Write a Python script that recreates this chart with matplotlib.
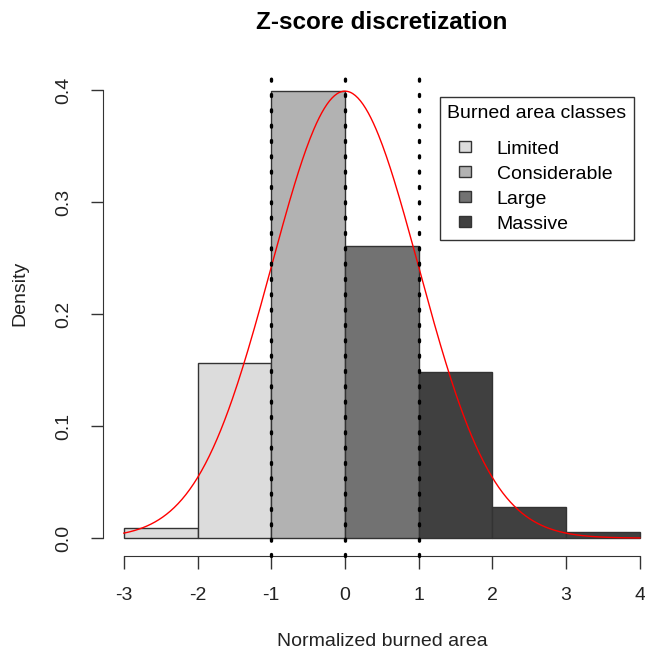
import numpy as np
import matplotlib
matplotlib.use("Agg")
import matplotlib.pyplot as plt
from matplotlib.patches import Patch, Rectangle
from matplotlib.legend_handler import HandlerPatch

plt.rcParams["font.family"] = ["Liberation Sans", "DejaVu Sans"]
plt.rcParams["font.size"] = 14

# ---- data ----
bin_edges = [-3, -2, -1, 0, 1, 2, 3, 4]
densities = [0.009, 0.156, 0.399, 0.261, 0.148, 0.028, 0.005]
bin_class = ["Limited", "Limited", "Considerable", "Large", "Massive", "Massive", "Massive"]

class_names = ["Limited", "Considerable", "Large", "Massive"]
class_colors = ["#dcdcdc", "#b2b2b2", "#727272", "#404040"]
class_breaks = [-1, 0, 1]

norm_mean = 0.0
norm_sd = 1.0

x_ticks = [-3, -2, -1, 0, 1, 2, 3, 4]
y_ticks = [0.0, 0.1, 0.2, 0.3, 0.4]

color_of = dict(zip(class_names, class_colors))

fig = plt.figure(figsize=(6.45, 6.52), dpi=100)
# R-like plot region (extends past the right edge, like the cropped original)
ax = fig.add_axes([0.160, 0.1472, 0.864, 0.7423])

lefts = np.array(bin_edges[:-1])
widths = np.diff(bin_edges)
ax.bar(lefts, densities, width=widths, align="edge",
       color=[color_of[c] for c in bin_class], edgecolor="#333333", linewidth=1.0, zorder=2)

# fitted normal curve
xs = np.linspace(bin_edges[0], bin_edges[-1], 400)
ys = np.exp(-0.5 * ((xs - norm_mean) / norm_sd) ** 2) / (norm_sd * np.sqrt(2 * np.pi))
ax.plot(xs, ys, color="red", linewidth=1.0, zorder=3)

# class boundaries
for b in class_breaks:
    ax.axvline(b, color="black", linewidth=2.4, linestyle=(0, (0.6, 4.0)),
               dash_capstyle="round", zorder=4, clip_on=False)

ax.set_xlim(-3.28, 4.28)
ax.set_ylim(-0.016, 0.416)

# R-style axes: no box, spines only over the tick range
for s in ["top", "right"]:
    ax.spines[s].set_visible(False)
ax.spines["left"].set_bounds(y_ticks[0], y_ticks[-1])
ax.spines["bottom"].set_bounds(x_ticks[0], x_ticks[-1])
ax.spines["left"].set_color("#333333")
ax.spines["bottom"].set_color("#333333")
ax.set_xticks(x_ticks)
ax.set_xticklabels([str(t) for t in x_ticks])
ax.set_yticks(y_ticks)
ax.set_yticklabels([f"{t:.1f}" for t in y_ticks], rotation=90, va="center")
ax.tick_params(axis="both", length=9, width=1, color="#333333", labelcolor="#222222")
ax.tick_params(axis="x", pad=13)
ax.tick_params(axis="y", pad=13)

ax.set_xlabel("Normalized burned area", labelpad=21, color="#222222")
fig.text(0.031, 0.5506, "Density",
         rotation=90, ha="center", va="center", color="#222222")
ax.set_title("Z-score discretization", fontweight="bold", fontsize=17.5, pad=31)


# small square legend keys sitting at the right of the handle box (R style)
def small_square(legend, orig_handle, xdescent, ydescent, width, height, fontsize):
    s = 8
    return Rectangle((-xdescent + width - s, -ydescent + (height - s) / 2), s, s)


handles = [Patch(facecolor=c, edgecolor="#333333", linewidth=1.0) for c in class_colors]
leg = ax.legend(handles, class_names, title="Burned area classes", loc="upper left",
                bbox_to_anchor=(0.604, 0.948), bbox_transform=ax.transAxes,
                frameon=True, fancybox=False, edgecolor="#333333", framealpha=1,
                handlelength=1.2, handleheight=0.7, handletextpad=1.35, labelspacing=0.38,
                borderpad=0.38, borderaxespad=0, fontsize=14, title_fontsize=14,
                handler_map={Patch: HandlerPatch(patch_func=small_square)})
leg.get_frame().set_linewidth(1.0)
leg._legend_box.align = "left"
leg._legend_box.sep = 0.38 * 14 + 8
leg.set_zorder(5)

fig.savefig("out.png", dpi=100, facecolor="white")
